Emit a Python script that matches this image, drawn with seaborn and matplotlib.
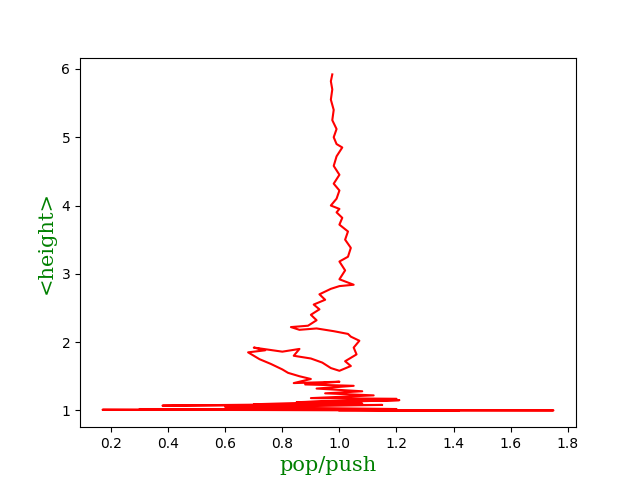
import numpy as np
import pandas as pd
import matplotlib
matplotlib.use("Agg")
import matplotlib.pyplot as plt
import seaborn as sns

# ratio pop/push vs mean height
ratio = [1.00, 1.75, 0.17, 1.42, 0.30, 1.20, 0.60, 1.15, 0.38, 1.08, 0.70, 1.21,
         0.85, 1.20, 0.90, 1.12, 0.95, 1.08, 0.92, 1.05, 0.88, 1.00, 0.84, 0.90,
         0.86, 0.82, 0.80, 0.76, 0.72, 0.68, 0.74, 0.70, 0.80, 0.86, 0.84, 0.90,
         0.94, 0.97, 1.00, 1.04, 1.02, 1.06, 1.05, 1.07, 1.04, 1.03, 0.98, 0.92,
         0.86, 0.83, 0.89, 0.92, 0.90, 0.93, 0.91, 0.95, 0.93, 0.97, 1.00, 1.05,
         1.00, 1.02, 1.00, 1.03, 1.04, 1.02, 1.03, 1.00, 1.01, 0.99, 1.00, 0.97,
         0.99, 1.00, 0.98, 1.00, 0.98, 0.99, 1.01, 0.99, 0.98, 0.99, 0.975, 0.98,
         0.97, 0.975, 0.97, 0.975]
height = [1.00, 1.00, 1.01, 1.00, 1.02, 1.02, 1.05, 1.08, 1.07, 1.10, 1.09, 1.15,
          1.12, 1.17, 1.18, 1.22, 1.25, 1.28, 1.32, 1.36, 1.38, 1.42, 1.40, 1.46,
          1.50, 1.55, 1.60, 1.68, 1.75, 1.85, 1.88, 1.92, 1.86, 1.90, 1.80, 1.76,
          1.70, 1.62, 1.58, 1.65, 1.72, 1.82, 1.92, 2.02, 2.08, 2.12, 2.16, 2.20,
          2.18, 2.22, 2.24, 2.32, 2.40, 2.48, 2.55, 2.62, 2.70, 2.78, 2.82, 2.84,
          2.92, 3.05, 3.18, 3.25, 3.38, 3.50, 3.62, 3.72, 3.82, 3.90, 3.95, 4.00,
          4.10, 4.22, 4.32, 4.45, 4.58, 4.72, 4.85, 4.90, 5.00, 5.12, 5.25, 5.40,
          5.55, 5.70, 5.82, 5.92]

df = pd.DataFrame({"ratio": ratio, "height": height})

fig, ax = plt.subplots(figsize=(6.4, 4.8), dpi=100)
sns.lineplot(data=df, x="ratio", y="height", sort=False, estimator=None,
             color="red", linewidth=1.5, ax=ax)
ax.set_xlabel("pop/push", fontsize=15, color="green", family="serif")
ax.set_ylabel("<height>", fontsize=15, color="green", family="serif")
ax.set_xticks([0.2, 0.4, 0.6, 0.8, 1.0, 1.2, 1.4, 1.6, 1.8])
plt.savefig("out.png")
